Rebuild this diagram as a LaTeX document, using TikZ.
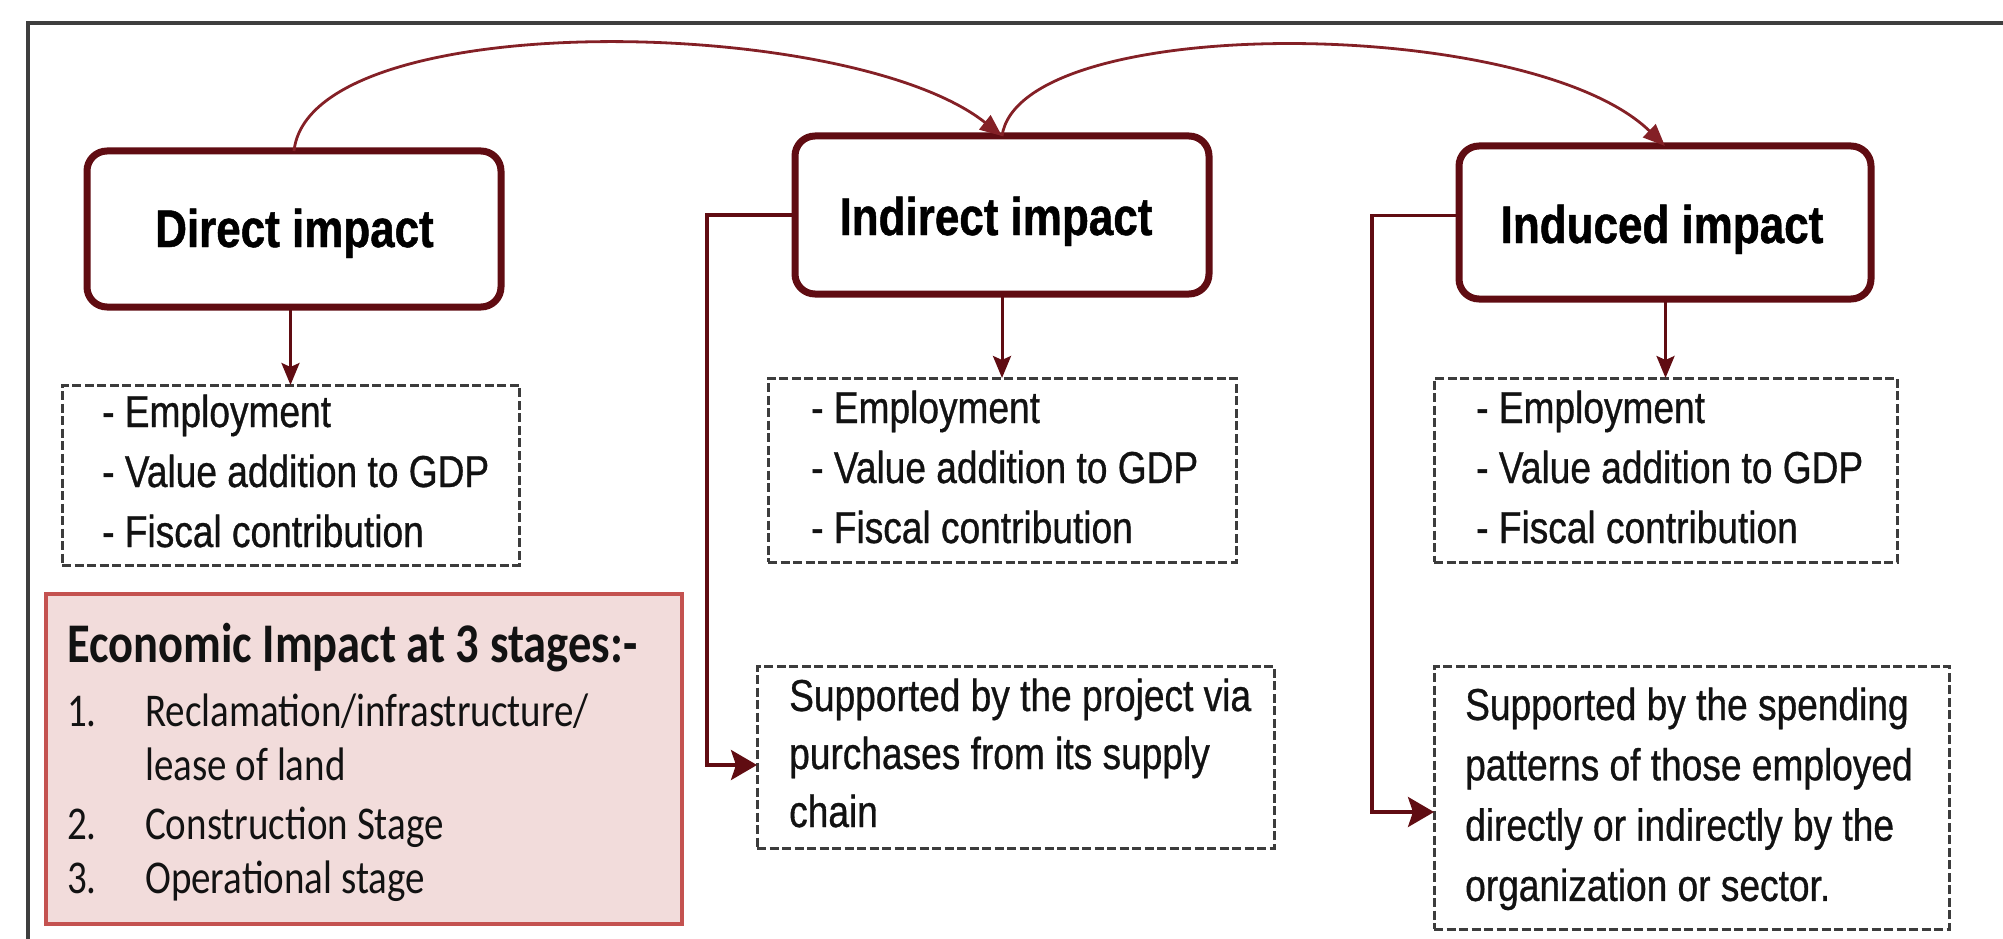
\documentclass[tikz,border=0pt]{standalone}
\usepackage{fontspec}
\setmainfont{Liberation Sans}
% condensed faces for the labels
\newfontfamily\narrowsans[FakeStretch=0.83,FakeBold=0.7]{Liberation Sans}
\newfontfamily\narrowtitle[FakeStretch=0.83,FakeBold=0.9]{Liberation Sans Bold}
\newfontfamily\narrowcal[FakeStretch=0.83]{Carlito}
\usetikzlibrary{arrows.meta}

\definecolor{boxrim}{RGB}{96,12,18}
\definecolor{linkred}{RGB}{132,32,38}
\definecolor{dashgray}{RGB}{60,60,60}
\definecolor{noteedge}{RGB}{196,82,80}
\definecolor{notefill}{RGB}{242,220,219}
\definecolor{framegray}{RGB}{62,62,62}
\definecolor{inktext}{RGB}{18,18,18}

\tikzset{
  impactbox/.style={draw=boxrim, line width=7pt, rounded corners=20pt,
    fill=white, inner sep=0pt, outer sep=0pt},
  listbox/.style={draw=dashgray, line width=3pt, dash pattern=on 9pt off 3.5pt,
    inner sep=0pt, outer sep=0pt},
  notebox/.style={draw=noteedge, fill=notefill, line width=4pt,
    inner sep=0pt, outer sep=0pt},
  titletext/.style={inner sep=0pt, anchor=base,
    font=\narrowtitle\fontsize{53}{60}\selectfont},
  itemtext/.style={inner sep=0pt, anchor=base west, text=inktext},
  curvelink/.style={draw=linkred, line width=2.8pt,
    -{Triangle[length=22pt,width=18pt]}},
  downlink/.style={draw=boxrim, line width=3pt,
    -{Stealth[length=22pt,width=18pt,inset=4pt]}},
  elbowlink/.style={draw=boxrim, line width=3.5pt,
    -{Stealth[length=26pt,width=30pt,inset=5pt]}},
}

\begin{document}
\begin{tikzpicture}[x=1pt,y=-1pt]
\useasboundingbox (0,0) rectangle (2003,939);

% outer frame (open on the right and bottom)
\draw[framegray, line width=3.5pt] (28,939) -- (28,23) -- (2003,23);

% the three impact boxes
\node[impactbox, minimum width=414pt, minimum height=156pt] (direct) at (294,229) {};
\node[impactbox, minimum width=414pt, minimum height=158pt] (indirect) at (1002,215) {};
\node[impactbox, minimum width=412pt, minimum height=153pt] (induced) at (1665,222.5) {};

\node[titletext] (tdirect) at (294.5,247) {Direct impact};
\node[titletext] (tindirect) at (996,235) {Indirect impact};
\node[titletext] (tinduced) at (1662,243) {Induced impact};

% dashed lists of effects
\node[listbox, minimum width=457pt, minimum height=180pt] (dlist) at (290.5,475) {};
\node[listbox, minimum width=468pt, minimum height=184pt] (ilist) at (1002,470) {};
\node[listbox, minimum width=463pt, minimum height=184pt] (ulist) at (1665.5,470) {};

\newcommand{\effectlines}{\parbox[t]{440pt}{\narrowsans\fontsize{44.7}{60}\selectfont
  - Employment\\- Value addition to GDP\\- Fiscal contribution}}
\node[itemtext] (dtext) at (102,427) {\effectlines};
\node[itemtext] (itext) at (811,423) {\effectlines};
\node[itemtext] (utext) at (1476,423) {\effectlines};

% explanatory boxes
\node[listbox, minimum width=517pt, minimum height=182pt] (sup1) at (1015.5,757) {};
\node[listbox, minimum width=515pt, minimum height=263pt] (sup2) at (1691.5,797.5) {};

\node[itemtext] (sup1text) at (789,711) {\parbox[t]{480pt}{\narrowsans\fontsize{44.7}{58}\selectfont
  Supported by the project via\\purchases from its supply\\chain}};
\node[itemtext] (sup2text) at (1465,720) {\parbox[t]{480pt}{\narrowsans\fontsize{44.7}{60.3}\selectfont
  Supported by the spending\\patterns of those employed\\directly or indirectly by the\\organization or sector.}};

% stages note
\node[notebox, minimum width=636pt, minimum height=330pt] (stages) at (364,759) {};
\node[itemtext] (stagetext) at (67,662) {\parbox[t]{600pt}{\narrowcal\fontsize{47}{54}\selectfont
  {\bfseries\fontsize{56}{54}\selectfont Economic Impact at 3 stages:-}\\[10pt]
  \makebox[78pt][l]{1.}Reclamation/infrastructure/\\
  \hspace*{78pt}lease of land\\[5pt]
  \makebox[78pt][l]{2.}Construction Stage\\
  \makebox[78pt][l]{3.}Operational stage}};

% arcs between the impact boxes
\draw[curvelink] (direct.north) .. controls (310,5) and (850,15) .. (indirect.north);
\draw[curvelink] (indirect.north) .. controls (1020,12) and (1530,15) .. (induced.north);

% from each impact box down to its list
\draw[downlink] (dlist.north |- direct.south) -- (dlist.north);
\draw[downlink] (indirect.south) -- (ilist.north);
\draw[downlink] (ulist.north |- induced.south) -- (ulist.north);

% elbow connectors to the explanatory boxes
\draw[elbowlink] (indirect.west) -- ++(-88,0) |- ([yshift=-8pt]sup1.west);
\draw[elbowlink] ([yshift=7pt]induced.west) -- ++(-87,0) |- ([yshift=-14.5pt]sup2.west);
\end{tikzpicture}
\end{document}
